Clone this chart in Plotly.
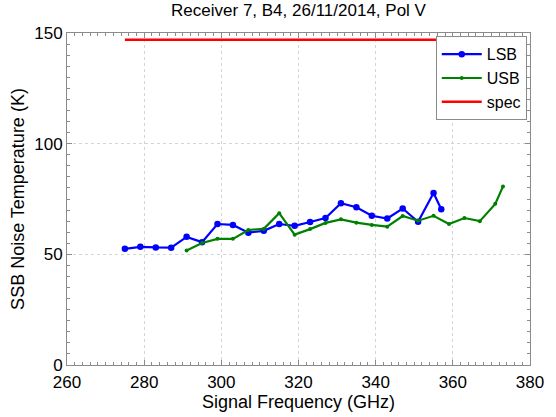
import plotly.graph_objects as go

# Receiver 7, band 4 noise temperature measurements
lsb_freq = [275, 279, 283, 287, 291, 295, 299, 303, 307, 311, 315, 319, 323, 327,
            331, 335, 339, 343, 347, 351, 355, 357]
lsb_temp = [52.5, 53.4, 53.1, 53.0, 57.9, 55.5, 63.7, 63.3, 59.8, 60.6, 63.7, 62.9,
            64.6, 66.4, 73.1, 71.3, 67.4, 66.2, 70.7, 64.7, 77.7, 70.4]

usb_freq = [291, 295, 299, 303, 307, 311, 315, 319, 323, 327, 331, 335, 339, 343,
            347, 351, 355, 359, 363, 367, 371, 373]
usb_temp = [51.7, 55.1, 57.0, 57.0, 61.0, 61.5, 68.6, 58.9, 61.4, 64.2, 65.8, 64.3,
            63.3, 62.5, 67.3, 65.2, 67.4, 63.7, 66.4, 65.0, 72.8, 80.7]

spec_freq = [275, 373]
spec_temp = [147, 147]

x_ticks = [260, 280, 300, 320, 340, 360, 380]
y_ticks = [0, 50, 100, 150]

FONT = "Liberation Sans, Arial, sans-serif"
AXIS_GREY = "#8a8a8a"

fig = go.Figure()
fig.add_trace(go.Scatter(
    x=lsb_freq, y=lsb_temp, name="LSB", mode="lines+markers",
    line=dict(color="#0000FF", width=2.2),
    marker=dict(symbol="circle", size=6.5, color="#0000FF"),
))
fig.add_trace(go.Scatter(
    x=usb_freq, y=usb_temp, name="USB", mode="lines+markers",
    line=dict(color="#008000", width=2.2),
    marker=dict(symbol="circle", size=4, color="#008000"),
))
fig.add_trace(go.Scatter(
    x=spec_freq, y=spec_temp, name="spec", mode="lines",
    line=dict(color="#FF0000", width=2.5),
))

axis_common = dict(
    showline=True, linecolor=AXIS_GREY, linewidth=1, mirror="ticks",
    ticks="inside", ticklen=5, tickcolor=AXIS_GREY,
    showgrid=True, gridcolor="#d4d4d4", griddash="dot", gridwidth=1,
    zeroline=False,
    tickfont=dict(family=FONT, size=17, color="#000000"),
)

fig.update_xaxes(
    range=[260, 380], tickvals=x_ticks, ticklabelstandoff=2,
    minor=dict(dtick=2, ticks="inside", ticklen=3, tickcolor=AXIS_GREY, showgrid=False),
    title=dict(text="Signal Frequency (GHz)", font=dict(family=FONT, size=18, color="#000000"), standoff=0),
    **axis_common,
)
fig.update_yaxes(
    range=[0, 150], tickvals=y_ticks,
    minor=dict(dtick=5, ticks="inside", ticklen=3, tickcolor=AXIS_GREY, showgrid=False),
    title=dict(text="SSB Noise Temperature (K)", font=dict(family=FONT, size=18, color="#000000"), standoff=4),
    **axis_common,
)

fig.update_layout(
    width=556, height=417,
    margin=dict(l=67, r=26, t=33, b=48),
    paper_bgcolor="white", plot_bgcolor="white",
    title=dict(text="Receiver 7, B4, 26/11/2014, Pol V", xref="paper", x=0.5, xanchor="center",
               y=0.99, yanchor="top",
               font=dict(family=FONT, size=17, color="#000000")),
    legend=dict(
        x=0.993, y=0.99, xanchor="right", yanchor="top",
        bgcolor="white", bordercolor=AXIS_GREY, borderwidth=1,
        font=dict(family=FONT, size=16, color="#000000"),
        itemwidth=40, tracegroupgap=0,
    ),
    showlegend=True,
)

fig.write_html("out.html")
